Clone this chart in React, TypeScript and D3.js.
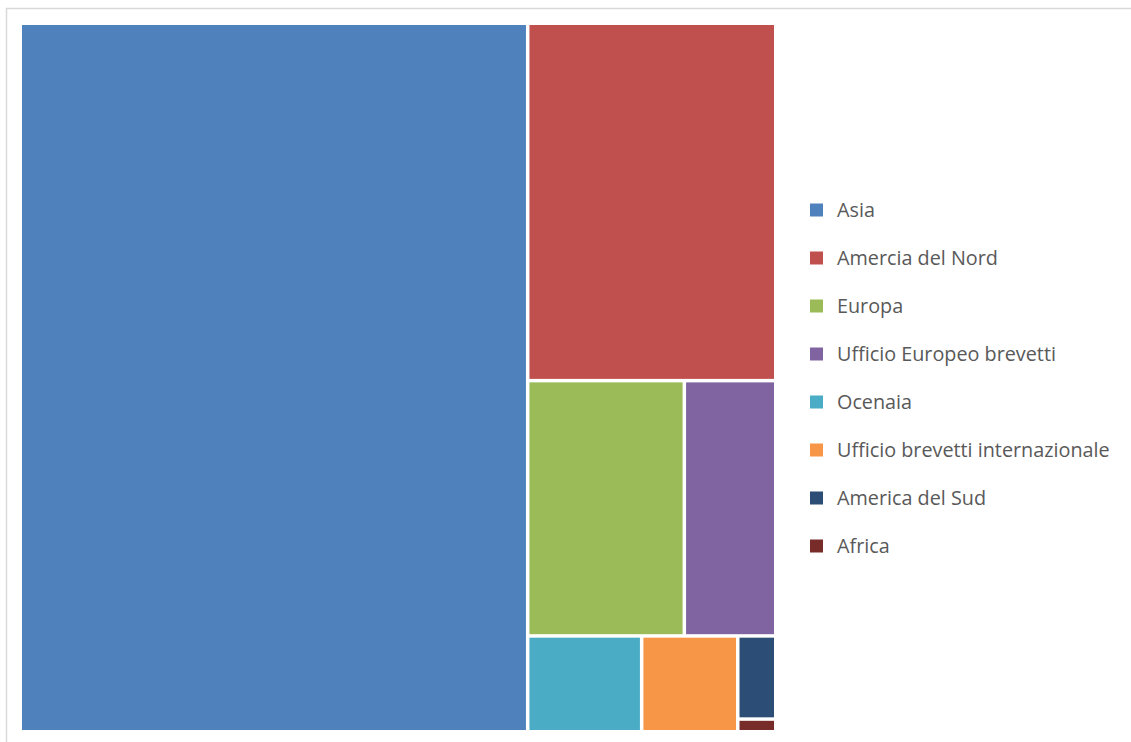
import React from "react";
import * as d3 from "d3";

const categories = [
  "Asia",
  "Amercia del Nord",
  "Europa",
  "Ufficio Europeo brevetti",
  "Ocenaia",
  "Ufficio brevetti internazionale",
  "America del Sud",
  "Africa",
];
const values = [67.16, 16.56, 7.47, 4.36, 2.04, 1.72, 0.59, 0.09];
const colors = ["#4F81BD", "#C0504D", "#9BBB59", "#8064A2", "#4BACC6", "#F79646", "#2C4D75", "#772C2A"];

const W = 1131;
const H = 742;
const plot = { x: 22, y: 25, w: 752, h: 705 };
const legend = { x: 810, y: 210, step: 48.0, box: 13, textX: 837 };

export default function App() {
  const data = categories.map((name, i) => ({ name, value: values[i], color: colors[i] }));
  const root = d3
    .hierarchy({ name: "root", children: data } as any)
    .sum((d: any) => d.value || 0);
  d3.treemap().tile(d3.treemapSquarify).size([plot.w, plot.h]).paddingInner(3.5).round(false)(root as any);
  const leaves = root.leaves() as any[];
  const ly = d3.scaleLinear().domain([0, 1]).range([legend.y, legend.y + legend.step]);

  return (
    <svg width={W} height={H} style={{ position: "absolute", left: 0, top: 0, background: "#fff" }}>
      <rect x={6.5} y={8.5} width={W} height={H} fill="#fff" stroke="#d9d9d9" strokeWidth={1.5} />
      <g transform={`translate(${plot.x},${plot.y})`}>
        {leaves.map((l) => (
          <rect
            key={l.data.name}
            x={l.x0}
            y={l.y0}
            width={Math.max(0, l.x1 - l.x0)}
            height={Math.max(0, l.y1 - l.y0)}
            fill={l.data.color}
          />
        ))}
      </g>
      <g>
        {data.map((d, i) => (
          <g key={d.name}>
            <rect x={legend.x} y={ly(i) - legend.box / 2} width={legend.box} height={legend.box} fill={d.color} />
            <text
              x={legend.textX}
              y={ly(i)}
              dy="0.35em"
              fontFamily="'Open Sans', Lato, sans-serif"
              fontSize={19.8}
              fill="#595959"
            >
              {d.name}
            </text>
          </g>
        ))}
      </g>
    </svg>
  );
}
